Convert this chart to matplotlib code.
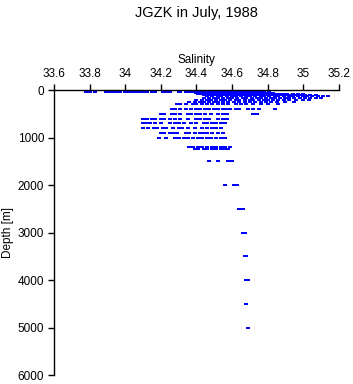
import matplotlib
matplotlib.use("Agg")
import matplotlib.pyplot as plt
from matplotlib.ticker import FuncFormatter

plt.rcParams['font.family'] = ['Liberation Sans', 'DejaVu Sans']

# sampled depths [m] and the salinity readings at each depth
depths = [35, 40, 50, 60, 75, 90, 110, 130, 160, 200, 250, 300, 400, 500, 600,
          700, 800, 900, 1000, 1200, 1250, 1500, 2000, 2500, 3000, 3500, 4000,
          4500, 5000]

salinity = [
    [33.78, 33.80, 33.83, 33.89, 33.91, 33.93, 33.95, 33.97, 34.00, 34.02, 34.04,
     34.06, 34.08, 34.10, 34.12, 34.15, 34.17, 34.21, 34.23, 34.25, 34.30, 34.35,
     34.37, 34.40, 34.42, 34.45, 34.47, 34.50, 34.52, 34.55, 34.57, 34.60, 34.62,
     34.65, 34.67, 34.70, 34.74],
    [34.34, 34.37, 34.40, 34.42, 34.45, 34.47, 34.50, 34.53, 34.55, 34.58, 34.60,
     34.63, 34.66, 34.68, 34.71, 34.76],
    [34.31, 34.38, 34.41, 34.43, 34.46, 34.49, 34.51, 34.54, 34.57, 34.59, 34.62,
     34.64, 34.67, 34.70, 34.73, 34.78, 34.81],
    [34.40, 34.42, 34.45, 34.48, 34.50, 34.53, 34.56, 34.58, 34.61, 34.64, 34.66,
     34.69, 34.72, 34.75, 34.77, 34.80, 34.83],
    [34.41, 34.44, 34.46, 34.49, 34.52, 34.55, 34.57, 34.60, 34.63, 34.65, 34.68,
     34.71, 34.73, 34.76, 34.79, 34.82, 34.84, 34.87, 34.90],
    [34.43, 34.46, 34.48, 34.51, 34.54, 34.56, 34.59, 34.62, 34.64, 34.67, 34.70,
     34.72, 34.75, 34.78, 34.80, 34.83, 34.86, 34.88, 34.91, 34.94, 34.97, 35.00],
    [34.44, 34.47, 34.50, 34.53, 34.55, 34.58, 34.61, 34.63, 34.66, 34.69, 34.71,
     34.74, 34.77, 34.79, 34.82, 34.85, 34.87, 34.90, 34.93, 34.95, 34.98, 35.01,
     35.04, 35.07],
    [34.46, 34.49, 34.52, 34.54, 34.57, 34.60, 34.62, 34.65, 34.68, 34.70, 34.73,
     34.76, 34.78, 34.81, 34.84, 34.86, 34.89, 34.92, 34.94, 34.97, 35.00, 35.02,
     35.05, 35.08, 35.11, 35.14],
    [34.44, 34.47, 34.50, 34.52, 34.55, 34.58, 34.60, 34.63, 34.66, 34.68, 34.71,
     34.74, 34.76, 34.79, 34.82, 34.84, 34.87, 34.90, 34.92, 34.95, 34.98, 35.01,
     35.04, 35.07, 35.10],
    [34.40, 34.43, 34.46, 34.48, 34.51, 34.54, 34.56, 34.59, 34.62, 34.64, 34.67,
     34.70, 34.72, 34.75, 34.78, 34.80, 34.83, 34.86, 34.89, 34.92, 34.96, 35.00,
     35.03],
    [34.36, 34.39, 34.42, 34.44, 34.47, 34.50, 34.52, 34.55, 34.58, 34.61, 34.64,
     34.67, 34.70, 34.73, 34.76, 34.79, 34.82, 34.85, 34.90, 34.95],
    [34.29, 34.31, 34.34, 34.38, 34.40, 34.43, 34.46, 34.49, 34.52, 34.55, 34.58,
     34.62, 34.65, 34.68, 34.72, 34.76, 34.80, 34.86],
    [34.26, 34.28, 34.31, 34.34, 34.37, 34.40, 34.42, 34.45, 34.47, 34.50, 34.52,
     34.55, 34.57, 34.59, 34.62, 34.64, 34.69, 34.72, 34.75, 34.84],
    [34.20, 34.22, 34.26, 34.28, 34.31, 34.35, 34.37, 34.40, 34.42, 34.45, 34.48,
     34.52, 34.55, 34.57, 34.72, 34.74],
    [34.10, 34.12, 34.15, 34.17, 34.20, 34.22, 34.25, 34.28, 34.31, 34.35, 34.40,
     34.42, 34.45, 34.47, 34.52, 34.55, 34.57],
    [34.10, 34.12, 34.14, 34.17, 34.20, 34.25, 34.28, 34.30, 34.33, 34.37, 34.40,
     34.44, 34.46, 34.49, 34.51, 34.54, 34.56],
    [34.10, 34.13, 34.16, 34.18, 34.21, 34.23, 34.27, 34.30, 34.32, 34.35, 34.39,
     34.43, 34.46, 34.49, 34.51, 34.54],
    [34.20, 34.22, 34.25, 34.27, 34.29, 34.34, 34.36, 34.39, 34.42, 34.44, 34.46,
     34.49, 34.52, 34.55],
    [34.19, 34.23, 34.28, 34.30, 34.33, 34.35, 34.38, 34.41, 34.43, 34.46, 34.48,
     34.51, 34.54, 34.56],
    [34.36, 34.38, 34.41, 34.43, 34.46, 34.49, 34.51, 34.54, 34.56, 34.59],
    [34.39, 34.41, 34.44, 34.46, 34.49, 34.51, 34.54, 34.56, 34.58],
    [34.47, 34.52, 34.58, 34.60],
    [34.56, 34.61, 34.63],
    [34.64, 34.66],
    [34.66, 34.67],
    [34.67, 34.68],
    [34.68, 34.69],
    [34.68],
    [34.69],
]

x_ticks = [33.6, 33.8, 34.0, 34.2, 34.4, 34.6, 34.8, 35.0, 35.2]
y_ticks = [0, 1000, 2000, 3000, 4000, 5000, 6000]

xs = []
ys = []
for d, row in zip(depths, salinity):
    for s in row:
        xs.append(s)
        ys.append(d)

fig = plt.figure(figsize=(3.53, 3.84), dpi=100)
ax = fig.add_axes([0.153, 0.0234, 0.807, 0.742])

# little flat rectangles like the original markers
dash = [(-2, -1), (2, -1), (2, 1), (-2, 1), (-2, -1)]
ax.plot(xs, ys, linestyle='none', marker=dash, markersize=3.3,
        color='#0000ff', markeredgewidth=0, clip_on=False, zorder=1)

ax.set_xlim(33.6, 35.2)
ax.set_ylim(6000, 0)
ax.set_xticks(x_ticks)
ax.set_yticks(y_ticks)
ax.xaxis.set_major_formatter(FuncFormatter(lambda v, p: '%g' % round(v, 1)))
ax.xaxis.tick_top()
ax.xaxis.set_label_position('top')
ax.spines['right'].set_visible(False)
ax.spines['bottom'].set_visible(False)
for sp in ['top', 'left']:
    ax.spines[sp].set_linewidth(1.0)
    ax.spines[sp].set_zorder(3)
ax.tick_params(axis='both', labelsize=8.5, length=4, width=1, pad=3)

ax.set_xlabel('Salinity', fontsize=8.5, labelpad=4)
ax.set_ylabel('Depth [m]', fontsize=8.5, labelpad=3)
fig.suptitle('JGZK in July, 1988', fontsize=10.5, y=0.985, x=0.557)

fig.savefig('out.png', dpi=100)
